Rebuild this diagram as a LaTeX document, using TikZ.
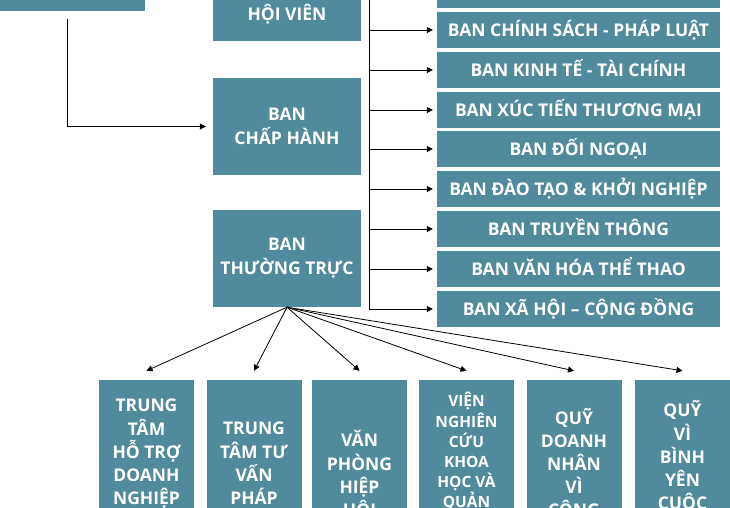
\documentclass[tikz,border=0pt]{standalone}
\usepackage{fontspec}
\setmainfont{Open Sans}
\usepackage{tikz}
\usetikzlibrary{arrows.meta, positioning}
\definecolor{boxblue}{HTML}{4F8A9D}
\tikzstyle{leftnode}=[rectangle,fill=boxblue,text=white,
  minimum width=148pt,minimum height=97pt,inner sep=0pt,
  font=\fontsize{17.5}{24}\selectfont\bfseries,align=center]
\tikzstyle{bannode}=[rectangle,fill=boxblue,text=white,
  minimum width=283pt,minimum height=36pt,inner sep=0pt,
  text height=12.5pt,text depth=0pt,
  font=\fontsize{17.5}{23}\selectfont\bfseries]
\tikzstyle{unitnode}=[rectangle,fill=boxblue,
  minimum width=95pt,minimum height=188pt,inner sep=0pt]
\tikzstyle{unitlabel}=[anchor=north,text=white,inner sep=0pt,align=center,
  font=\fontsize{17.5}{23}\selectfont\bfseries]
\tikzstyle{arr}=[-{Triangle[length=6pt,width=6pt]},line width=0.8pt,color=black]

\begin{document}
\begin{tikzpicture}[x=1pt,y=-1pt]
  \useasboundingbox (0,0) rectangle (730,507);
  \clip (0,0) rectangle (730,507);
  % top left, cut by the frame
  \node[rectangle,fill=boxblue,minimum width=156pt,minimum height=70pt,inner sep=0pt] (top) at (67,-24) {};
  % left column
  \node[leftnode] (hoivien) at (287,-7.5) {\phantom{H}\\\phantom{H}\\HỘI VIÊN};
  \node[leftnode] (chaphanh) at (287,126.5) {BAN\\CHẤP HÀNH};
  \node[leftnode] (thuongtruc) at (287,258.5) {BAN\\THƯỜNG TRỰC};
  \draw[arr,shorten <=8pt,shorten >=7pt] (top) |- (chaphanh);
  % right column
  \node[bannode] (ban0) at (578.5,-10) {};
  \node[bannode] (ban1) at (578.5,30) {BAN CHÍNH SÁCH - PHÁP LUẬT};
  \node[bannode] (ban2) at (578.5,70) {BAN KINH TẾ - TÀI CHÍNH};
  \node[bannode] (ban3) at (578.5,110) {BAN XÚC TIẾN THƯƠNG MẠI};
  \node[bannode] (ban4) at (578.5,149) {BAN ĐỐI NGOẠI};
  \node[bannode] (ban5) at (578.5,189) {BAN ĐÀO TẠO \& KHỞI NGHIỆP};
  \node[bannode] (ban6) at (578.5,229) {BAN TRUYỀN THÔNG};
  \node[bannode] (ban7) at (578.5,269) {BAN VĂN HÓA THỂ THAO};
  \node[bannode] (ban8) at (578.5,309) {BAN XÃ HỘI – CỘNG ĐỒNG};
  \coordinate (spine) at (369,-60);
  \draw[arr,shorten >=4pt] (spine) |- (ban8);
  \draw[arr,shorten >=4pt] (spine |- ban0) -- (ban0);
  \draw[arr,shorten >=4pt] (spine |- ban1) -- (ban1);
  \draw[arr,shorten >=4pt] (spine |- ban2) -- (ban2);
  \draw[arr,shorten >=4pt] (spine |- ban3) -- (ban3);
  \draw[arr,shorten >=4pt] (spine |- ban4) -- (ban4);
  \draw[arr,shorten >=4pt] (spine |- ban5) -- (ban5);
  \draw[arr,shorten >=4pt] (spine |- ban6) -- (ban6);
  \draw[arr,shorten >=4pt] (spine |- ban7) -- (ban7);
  % bottom row
  \node[unitnode] (unit1) at (146.5,474) {};
  \node[unitnode] (unit2) at (254,474) {};
  \node[unitnode] (unit3) at (359.5,474) {};
  \node[unitnode] (unit4) at (466.5,474) {};
  \node[unitnode] (unit5) at (574,474) {};
  \node[unitnode] (unit6) at (682.5,474) {};
  \node[unitlabel] (label1) at (146.5,395) {\strut TRUNG\\TÂM\\HỖ TRỢ\\DOANH\\NGHIỆP};
  \node[unitlabel] (label2) at (254,418) {\strut TRUNG\\TÂM TƯ\\VẤN\\PHÁP};
  \node[unitlabel] (label3) at (359.5,430) {\strut VĂN\\PHÒNG\\HIỆP\\HỘI};
  \node[unitlabel,font=\fontsize{15.5}{20}\selectfont\bfseries] (label4) at (466.5,391.5) {\strut VIỆN\\NGHIÊN\\CỨU\\KHOA\\HỌC VÀ\\QUẢN};
  \node[unitlabel] (label5) at (574,408) {\strut QUỸ\\DOANH\\NHÂN\\VÌ\\CỘNG};
  \node[unitlabel] (label6) at (682.5,400) {\strut QUỸ\\VÌ\\BÌNH\\YÊN\\CUỘC};
  \draw[arr] (thuongtruc.south) -- ([yshift=9pt]unit1.north);
  \draw[arr] (thuongtruc.south) -- ([yshift=9pt]unit2.north);
  \draw[arr] (thuongtruc.south) -- ([yshift=9pt]unit3.north);
  \draw[arr] (thuongtruc.south) -- ([yshift=9pt]unit4.north);
  \draw[arr] (thuongtruc.south) -- ([yshift=9pt]unit5.north);
  \draw[arr] (thuongtruc.south) -- ([yshift=9pt]unit6.north);
\end{tikzpicture}
\end{document}
